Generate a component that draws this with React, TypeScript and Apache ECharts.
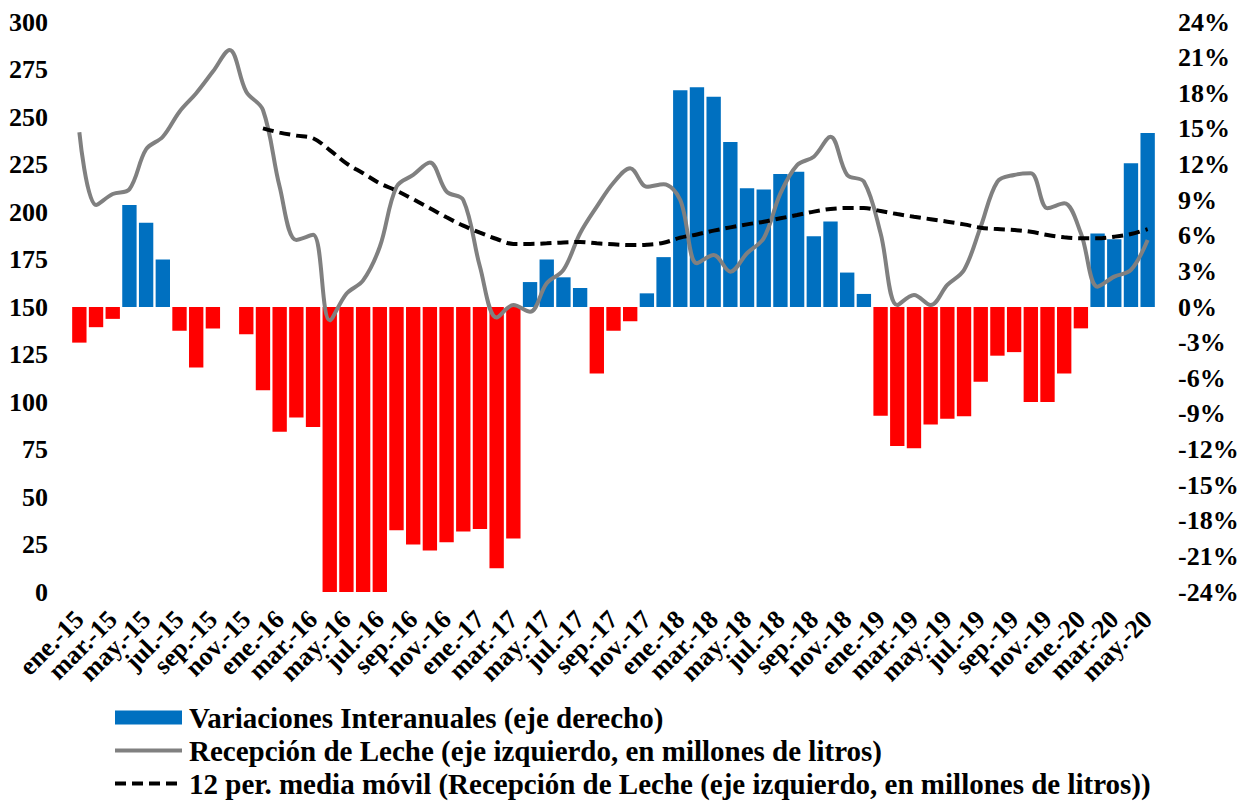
import React, { useEffect, useRef } from "react";
import * as echarts from "echarts";

const MONTHS = ["ene.", "feb.", "mar.", "abr.", "may.", "jun.", "jul.", "ago.", "sep.", "oct.", "nov.", "dic."];
const YEARS = [15, 16, 17, 18, 19, 20];
const categories: string[] = [];
for (const y of YEARS) {
  for (const m of MONTHS) {
    if (y === 20 && MONTHS.indexOf(m) > 4) break;
    categories.push(`${m}-${y}`);
  }
}

const variaciones = [
  -3.0, -1.7, -1.0, 8.6, 7.1, 4.0, -2.0, -5.1, -1.8, 0,
  -2.3, -7.0, -10.5, -9.3, -10.1, -24, -24, -24, -24, -18.8,
  -20.0, -20.5, -19.8, -18.9, -18.7, -22.0, -19.5, 2.1, 4.0, 2.5,
  1.6, -5.6, -2.0, -1.2, 1.15, 4.2, 18.25, 18.5, 17.7, 13.9,
  10.0, 9.9, 11.2, 11.4, 5.95, 7.2, 2.9, 1.1, -9.15, -11.7,
  -11.9, -9.9, -9.4, -9.2, -6.3, -4.1, -3.8, -8.0, -8.0, -5.6,
  -1.8, 6.2, 5.7, 12.1, 14.65,
];

const recepcion = [
  242, 203.7, 209.5, 212, 233, 239.6, 252.8, 262.5, 273.9, 285.3,
  263.3, 253.7, 213.3, 185.3, 188, 143, 157, 164, 181.7, 213.3,
  219.5, 226, 210.7, 206.3, 171.2, 144.5, 151, 147.5, 162.5, 169.5,
  188.8, 202.8, 215.4, 223, 213.3, 214.6, 206.3, 173, 177.4, 168.6,
  178.3, 186.2, 209.8, 224.7, 229.1, 239.6, 219.5, 216, 188.8, 151,
  156.3, 151, 161.6, 169.5, 192.3, 216, 219.5, 220.4, 202, 204.6,
  188.8, 160.7, 166, 169.5, 185.3,
];

const mediaMovil: (number | null)[] = [
  null, null, null, null, null, null, null, null, null, null, null,
  244, 241.8, 240.2, 238.8, 232.6, 225.6, 220.4, 215.1, 211.2, 206.7,
  202, 197.2, 192.8, 189.1, 185.8, 183.2, 183.2, 183.5, 184, 184.2,
  183.5, 183, 182.6, 182.8, 183.8, 186.5, 188.2, 190.2, 191.9, 193.5,
  194.9, 196.7, 198.4, 200.2, 201.6, 202.1, 202.1, 200.5, 198.9, 197.5,
  196.2, 194.9, 193.5, 191.7, 191, 190.5, 189.6, 187.9, 186.7, 186.2,
  186.2, 187, 188.4, 191,
];

const leftTicks = { min: 0, max: 300, interval: 25 };
const rightTicks = { min: -24, max: 24, interval: 3 };

const NAMES = [
  "Variaciones Interanuales (eje derecho)",
  "Recepción de Leche (eje izquierdo, en millones de litros)",
  "12 per. media móvil (Recepción de Leche (eje izquierdo, en millones de litros))",
];

const FONT = "'Liberation Serif', 'Times New Roman', serif";

export default function App() {
  const ref = useRef<HTMLDivElement>(null);
  useEffect(() => {
    document.body.style.margin = "0";
    if (!ref.current) return;
    const chart = echarts.init(ref.current, null, { renderer: "svg" });
    const textBase = { fontFamily: FONT, fontWeight: "bold" as const, color: "#000" };
    chart.setOption({
      animation: false,
      backgroundColor: "#fff",
      textStyle: { fontFamily: FONT },
      grid: { left: 71, right: 88, top: 22, bottom: 209, containLabel: false },
      legend: {
        orient: "vertical",
        left: 113,
        top: 703,
        height: 200,
        padding: 0,
        itemWidth: 67,
        itemHeight: 14,
        itemGap: 4,
        textStyle: { ...textBase, fontSize: 29, padding: [0, 0, 0, 2] },
        data: [
          { name: NAMES[0], icon: "rect" },
          { name: NAMES[1], itemStyle: { opacity: 0 }, lineStyle: { width: 4 } },
          { name: NAMES[2], itemStyle: { opacity: 0 }, lineStyle: { width: 4 } },
        ],
      },
      xAxis: {
        type: "category",
        data: categories,
        axisLine: { show: false },
        axisTick: { show: false },
        axisLabel: {
          ...textBase,
          fontSize: 26,
          rotate: 45,
          interval: 0,
          margin: 23,
          showMinLabel: true,
          showMaxLabel: true,
          formatter: (v: string, i: number) => (i % 2 === 0 ? v : ""),
        },
      },
      yAxis: [
        {
          type: "value",
          ...leftTicks,
          splitLine: { show: false },
          axisLine: { show: false },
          axisTick: { show: false },
          axisLabel: { ...textBase, fontSize: 26, margin: 23 },
        },
        {
          type: "value",
          ...rightTicks,
          position: "right",
          splitLine: { show: false },
          axisLine: { show: false },
          axisTick: { show: false },
          axisLabel: { ...textBase, fontSize: 26, margin: 22, formatter: "{value}%" },
        },
      ],
      series: [
        {
          name: NAMES[0],
          type: "bar",
          yAxisIndex: 1,
          barCategoryGap: "14%",
          itemStyle: { color: "#0070C0" },
          data: variaciones.map((v) => ({
            value: v,
            itemStyle: { color: v < 0 ? "#FF0000" : "#0070C0" },
          })),
          z: 1,
        },
        {
          name: NAMES[1],
          type: "line",
          yAxisIndex: 0,
          data: recepcion,
          smooth: 0.35,
          symbol: "none",
          lineStyle: { color: "#808080", width: 4 },
          itemStyle: { color: "#808080" },
          z: 3,
        },
        {
          name: NAMES[2],
          type: "line",
          yAxisIndex: 0,
          data: mediaMovil,
          smooth: 0.35,
          symbol: "none",
          lineStyle: { color: "#000", width: 4, type: [11, 6] },
          itemStyle: { color: "#000" },
          z: 4,
        },
      ],
    });
    return () => chart.dispose();
  }, []);
  return <div ref={ref} style={{ width: 1244, height: 801 }} />;
}
